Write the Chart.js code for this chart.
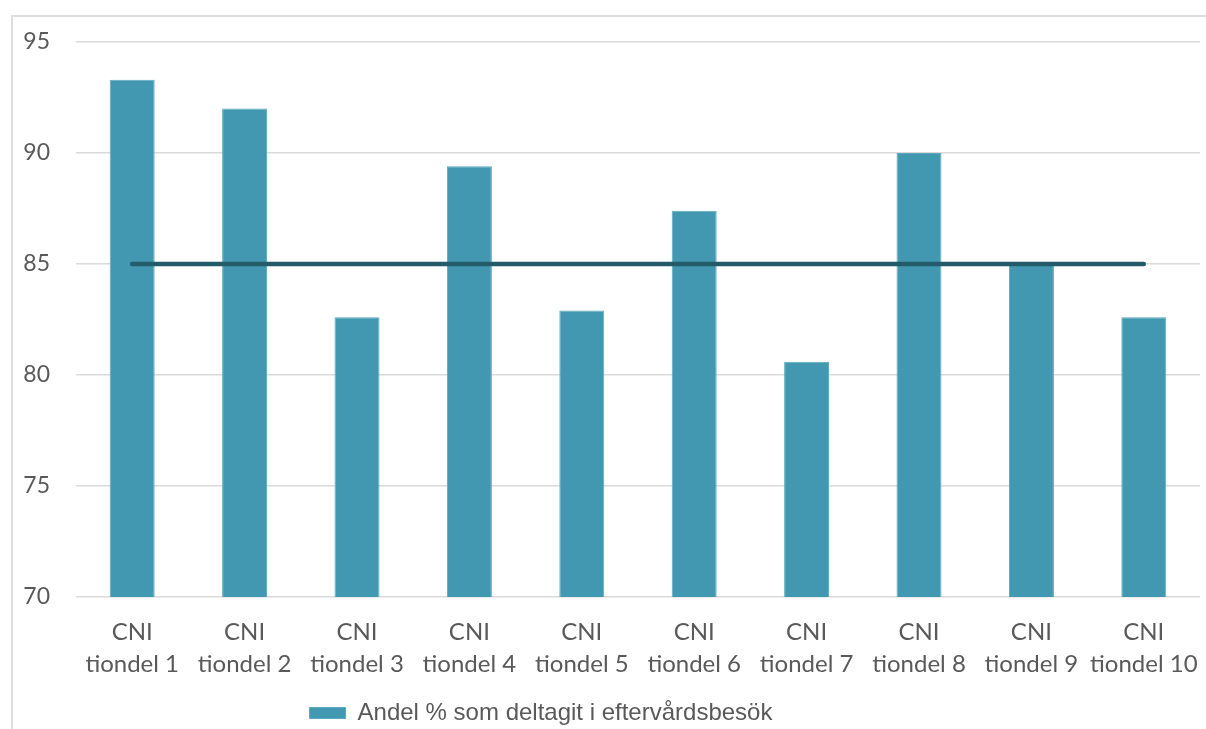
<!DOCTYPE html>
<html lang="sv">
<head>
<meta charset="utf-8">
<title>Andel % som deltagit i eftervårdsbesök per CNI-tiondel</title>
<script src="https://cdn.jsdelivr.net/npm/chart.js@4.4.1/dist/chart.umd.min.js"></script>
<style>
  html, body { margin: 0; padding: 0; background: #fff; }
  #wrap { position: relative; width: 1206px; height: 729px; overflow: hidden; }
  /* thin frame along the top and left edge of the chart box */
  #frame {
    position: absolute; left: 11px; top: 15px; right: -10px; bottom: -10px;
    border-top: 2px solid #dedede; border-left: 2px solid #dedede;
  }
  #chart { position: absolute; left: 0; top: 0; }
</style>
</head>
<body>
<div id="wrap">
  <div id="frame"></div>
  <canvas id="chart" width="1206" height="729"></canvas>
</div>
<script>
'use strict';

// ── Data ────────────────────────────────────────────────────────────────
const CATEGORIES = [
  ['CNI', 'tiondel 1'], ['CNI', 'tiondel 2'], ['CNI', 'tiondel 3'],
  ['CNI', 'tiondel 4'], ['CNI', 'tiondel 5'], ['CNI', 'tiondel 6'],
  ['CNI', 'tiondel 7'], ['CNI', 'tiondel 8'], ['CNI', 'tiondel 9'],
  ['CNI', 'tiondel 10'],
];
const SHARE_PCT   = [93.3, 92.0, 82.6, 89.4, 82.9, 87.4, 80.6, 90.0, 85.0, 82.6];
const TARGET_PCT  = [85, 85, 85, 85, 85, 85, 85, 85, 85, 85];
const Y_MIN = 70;
const Y_MAX = 95;
const Y_STEP = 5;

const SERIES_LABEL = 'Andel % som deltagit i eftervårdsbesök';

// ── Styling ─────────────────────────────────────────────────────────────
const BAR_COLOR  = '#4298b0';
const LINE_COLOR = '#235b6b';
const GRID_COLOR = '#dadada';
const TEXT_COLOR = '#595959';

// Nudge the bottom legend left of centre and a little lower.
const legendShift = {
  id: 'legendShift',
  afterLayout(chart) {
    const lg = chart.legend;
    if (!lg) return;
    lg.left -= 59;
    lg.right -= 59;
    lg.top += 8;
    lg.bottom += 8;
  },
};

new Chart(document.getElementById('chart'), {
  data: {
    labels: CATEGORIES,
    datasets: [
      {
        type: 'line',
        label: 'Mål',
        data: TARGET_PCT,
        borderColor: LINE_COLOR,
        borderWidth: 4.5,
        borderCapStyle: 'round',
        pointRadius: 0,
        fill: false,
        order: 0,
      },
      {
        type: 'bar',
        label: SERIES_LABEL,
        data: SHARE_PCT,
        backgroundColor: BAR_COLOR,
        borderColor: '#5aa9be',
        borderWidth: 1,
        barPercentage: 0.8,
        categoryPercentage: 0.5,
        order: 1,
      },
    ],
  },
  options: {
    responsive: false,
    animation: false,
    layout: { padding: { left: 0, right: 6, top: 42, bottom: 2 } },
    plugins: {
      tooltip: { enabled: false },
      legend: {
        position: 'bottom',
        labels: {
          filter: (item) => item.text === SERIES_LABEL,
          boxWidth: 36,
          boxHeight: 11,
          padding: 10,
          color: TEXT_COLOR,
          font: { family: 'Liberation Sans, Arial, sans-serif', size: 24 },
        },
      },
    },
    scales: {
      x: {
        grid: { display: false, drawTicks: false },
        border: { display: false },
        ticks: {
          color: TEXT_COLOR,
          padding: 20,
          maxRotation: 0,
          font: { family: 'Lato, sans-serif', size: 24, lineHeight: 1.3 },
        },
        afterFit(scale) {
          scale.height = 86;
          // category labels fit inside their slots; no extra side padding
          scale.paddingLeft = 0;
          scale.paddingRight = 0;
        },
      },
      y: {
        min: Y_MIN,
        max: Y_MAX,
        grid: { color: GRID_COLOR, lineWidth: 1.5, drawTicks: false },
        border: { display: false },
        ticks: {
          stepSize: Y_STEP,
          color: TEXT_COLOR,
          padding: 26,
          font: { family: 'Lato, sans-serif', size: 23 },
        },
        afterFit(scale) { scale.width = 76; },
      },
    },
  },
  plugins: [legendShift],
});
</script>
</body>
</html>
